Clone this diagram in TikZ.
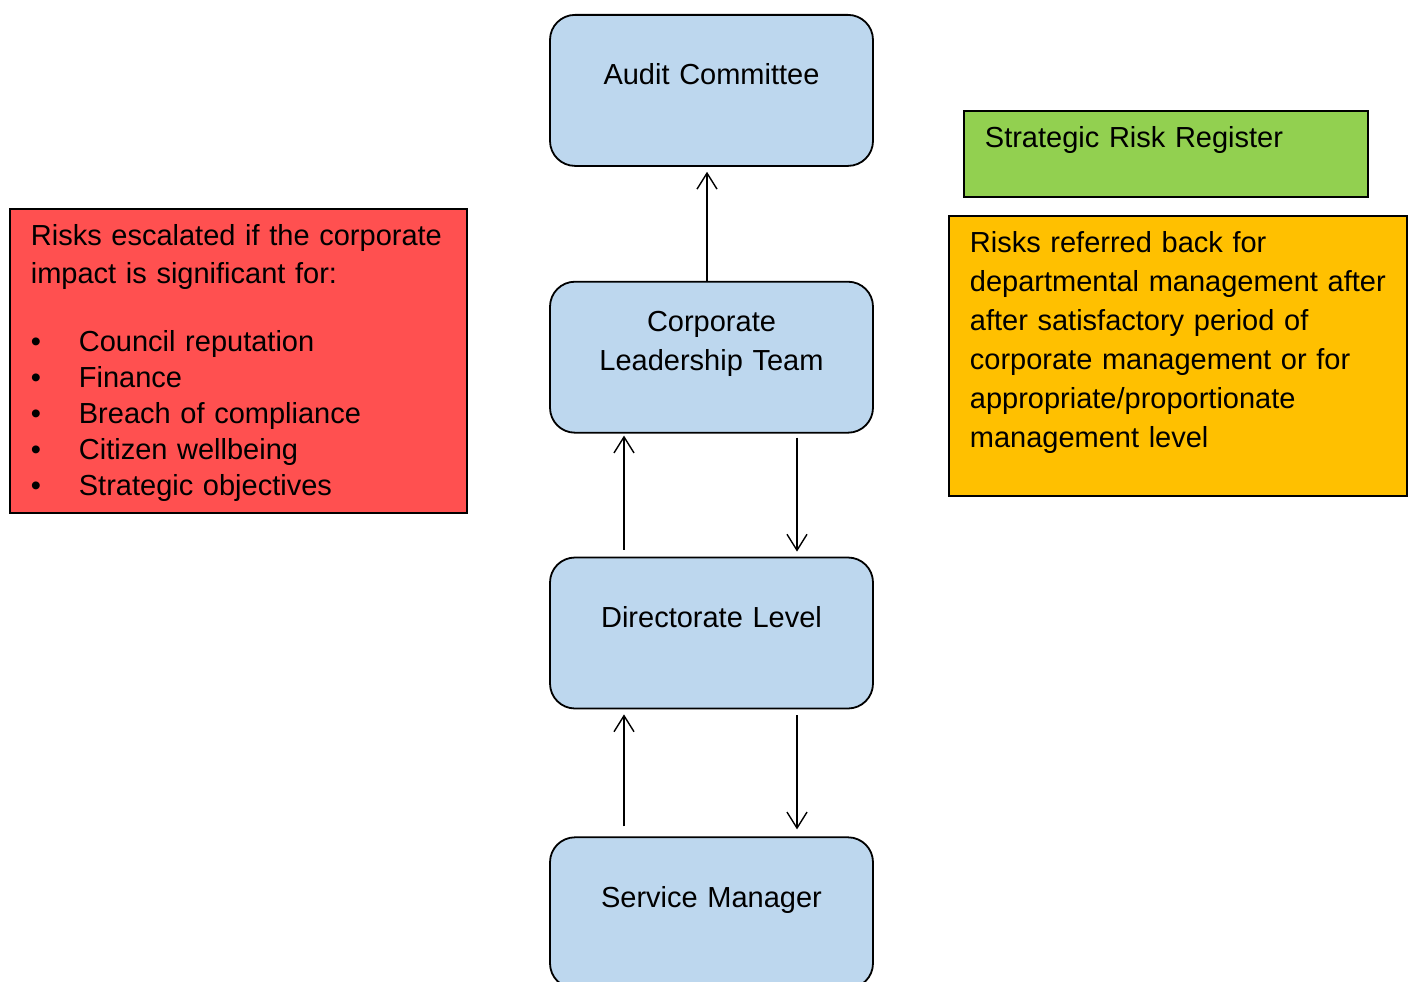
\documentclass[tikz,border=0pt]{standalone}
\usepackage{fontspec}
\setmainfont{Liberation Sans}
\usetikzlibrary{arrows.meta,positioning}
\definecolor{levelblue}{RGB}{189,215,238}
\definecolor{escalred}{RGB}{255,80,80}
\definecolor{registergreen}{RGB}{146,208,80}
\definecolor{referorange}{RGB}{255,192,0}

\begin{document}
\begin{tikzpicture}[x=1pt,y=1pt,>={Straight Barb[length=16pt,width=20pt]},font=\fontsize{29}{39}\selectfont]
        \tikzstyle{level}=[rectangle,rounded corners=25pt,line width=1.8pt,draw=black,fill=levelblue,inner sep=0pt,text width=323pt,align=center,text height=70pt,text depth=81pt]
        \tikzstyle{note}=[rectangle,line width=1.8pt,draw=black,inner xsep=21pt,inner ysep=0pt,align=left,text height=37pt,anchor=north west]
        \tikzstyle{link}=[line width=1.4pt]

        \useasboundingbox (0,0) rectangle (1409,-982);

        \node [level, anchor=north] (audit) at (711.5,-14) {Audit Committee};
        \node [level, text height=50pt, text depth=101pt] (clt) [below=114pt of audit] {Corporate\\Leadership Team};
        \node [level] (dir) [below=123pt of clt] {Directorate Level};
        \node [level] (sm) [below=127pt of dir] {Service Manager};

        % side notes
        \node [note, fill=escalred, text width=415pt, text depth=267pt, font=\fontsize{29}{38}\selectfont] (escal) at (9,-208)
            {Risks escalated if the corporate\\
             impact is significant for:\\[30pt]
             \makebox[48pt][l]{\textbullet}Council reputation\\[-2pt]
             \makebox[48pt][l]{\textbullet}Finance\\[-2pt]
             \makebox[48pt][l]{\textbullet}Breach of compliance\\[-2pt]
             \makebox[48pt][l]{\textbullet}Citizen wellbeing\\[-2pt]
             \makebox[48pt][l]{\textbullet}Strategic objectives};
        \node [note, fill=registergreen, text width=362pt, text depth=49pt] (register) at (963,-110) {Strategic Risk Register};
        \node [note, fill=referorange, text width=416pt, text depth=243pt] (refer) at (948,-215)
            {Risks referred back for\\
             departmental management after\\
             after satisfactory period of\\
             corporate management or for\\
             appropriate/proportionate\\
             management level};

        % escalation and referral
        \draw [link,->,shorten >=5pt] ([xshift=-4.5pt]clt.north) -- ([xshift=-4.5pt]audit.south);
        \draw [link,->,shorten <=7pt,shorten >=2pt] ([xshift=-87.5pt]dir.north) -- ([xshift=-87.5pt]clt.south);
        \draw [link,->,shorten <=4pt,shorten >=5pt] ([xshift=85.5pt]clt.south) -- ([xshift=85.5pt]dir.north);
        \draw [link,->,shorten <=10pt,shorten >=5pt] ([xshift=-87.5pt]sm.north) -- ([xshift=-87.5pt]dir.south);
        \draw [link,->,shorten <=6pt,shorten >=7pt] ([xshift=85.5pt]dir.south) -- ([xshift=85.5pt]sm.north);
\end{tikzpicture}
\end{document}
